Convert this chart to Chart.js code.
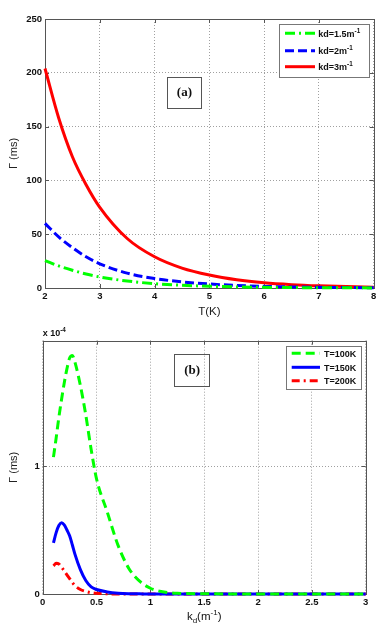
<!DOCTYPE html>
<html>
<head>
<meta charset="utf-8">
<script src="https://cdn.jsdelivr.net/npm/chart.js@4.4.0/dist/chart.umd.min.js"></script>
<style>
  html, body { margin: 0; padding: 0; background: #fff; }
  #wrap { position: relative; width: 391px; height: 637px; }
  canvas { position: absolute; left: 0; }
</style>
</head>
<body>
<div id="wrap">
  <canvas id="chartA" width="391" height="320" style="top:0"></canvas>
  <canvas id="chartB" width="391" height="317" style="top:320px"></canvas>
</div>
<script>
// (a) relaxation rate vs temperature, one curve per kd
const temps     = [2, 2.25, 2.5, 2.75, 3, 3.5, 4, 4.5, 5, 5.5, 6, 6.5, 7, 7.5, 8];
const gammaKd15 = [25.5, 20.5, 16.5, 13, 10.2, 6.5, 4.0, 2.6, 1.6, 1.0, 0.65, 0.4, 0.25, 0.15, 0.1];
const gammaKd2  = [60, 47.5, 37.5, 29, 22.5, 13.8, 8.8, 5.7, 3.7, 2.4, 1.5, 1.0, 0.6, 0.4, 0.3];
const gammaKd3  = [204, 158, 122, 96, 75, 46, 29, 18.5, 12, 7.6, 4.8, 3.1, 2.0, 1.3, 0.8];
const labelsA   = ['kd=1.5m^{-1}', 'kd=2m^{-1}', 'kd=3m^{-1}'];

// (b) relaxation rate vs kd, values in units of 1e-4 ms
const kdValues  = [0.1, 0.125, 0.15, 0.175, 0.2, 0.225, 0.25, 0.275, 0.3, 0.35, 0.4, 0.45, 0.5, 0.6, 0.7, 0.8, 0.9, 1.0, 1.1, 1.25, 1.5, 2, 2.5, 3];
const gammaT100 = [1.07, 1.22, 1.38, 1.52, 1.65, 1.76, 1.845, 1.865, 1.81, 1.63, 1.40, 1.13, 0.9, 0.64, 0.38, 0.2, 0.1, 0.045, 0.02, 0.006, 0.002, 0, 0, 0];
const gammaT150 = [0.40, 0.48, 0.535, 0.557, 0.54, 0.5, 0.455, 0.385, 0.31, 0.19, 0.105, 0.055, 0.035, 0.016, 0.006, 0.002, 0.001, 0, 0, 0, 0, 0, 0, 0];
const gammaT200 = [0.22, 0.24, 0.235, 0.21, 0.18, 0.15, 0.12, 0.09, 0.065, 0.035, 0.02, 0.01, 0.005, 0.002, 0, 0, 0, 0, 0, 0, 0, 0, 0, 0];
const labelsB   = ['T=100K', 'T=150K', 'T=200K'];

const FONT = '"Liberation Sans", Arial, sans-serif';

function toPoints(xs, ys) {
  return xs.map((x, i) => ({ x: x, y: ys[i] }));
}

// draws text with _{sub} and ^{sup} parts, y is the baseline
function drawRich(ctx, text, x, y, size, weight, align) {
  const parts = [];
  const re = /([_^])\{([^}]*)\}/g;
  let last = 0, m;
  while ((m = re.exec(text))) {
    if (m.index > last) parts.push({ t: text.slice(last, m.index), k: '' });
    parts.push({ t: m[2], k: m[1] });
    last = re.lastIndex;
  }
  if (last < text.length) parts.push({ t: text.slice(last), k: '' });
  const fontFor = p => weight + ' ' + (p.k ? size * 0.7 : size) + 'px ' + FONT;
  let total = 0;
  parts.forEach(p => { ctx.font = fontFor(p); p.w = ctx.measureText(p.t).width; total += p.w; });
  let cx = align === 'center' ? x - total / 2 : x;
  ctx.textAlign = 'left';
  ctx.textBaseline = 'alphabetic';
  parts.forEach(p => {
    ctx.font = fontFor(p);
    const dy = p.k === '^' ? -size * 0.42 : (p.k === '_' ? size * 0.28 : 0);
    ctx.fillText(p.t, cx, y + dy);
    cx += p.w;
  });
}

// box around plot + inward tick marks
const framePlugin = {
  id: 'frame',
  beforeDatasetsDraw(chart) {
    const { ctx, chartArea: a, scales } = chart;
    const x = scales.x, y = scales.y;
    ctx.save();
    ctx.strokeStyle = '#555';
    ctx.lineWidth = 1;
    ctx.setLineDash([]);
    ctx.beginPath();
    x.ticks.forEach(t => {
      const px = Math.round(x.getPixelForValue(t.value)) + 0.5;
      ctx.moveTo(px, a.bottom); ctx.lineTo(px, a.bottom - 4);
      ctx.moveTo(px, a.top); ctx.lineTo(px, a.top + 4);
    });
    y.ticks.forEach(t => {
      const py = Math.round(y.getPixelForValue(t.value)) + 0.5;
      ctx.moveTo(a.left, py); ctx.lineTo(a.left + 4, py);
      ctx.moveTo(a.right, py); ctx.lineTo(a.right - 4, py);
    });
    ctx.stroke();
    ctx.strokeRect(Math.round(a.left) + 0.5, Math.round(a.top) + 0.5,
      Math.round(a.right - a.left), Math.round(a.bottom - a.top));
    ctx.restore();
  }
};

// legend box, panel tag and extra texts
const extrasPlugin = {
  id: 'extras',
  afterDraw(chart, args, opts) {
    const { ctx, chartArea: a } = chart;
    ctx.save();
    // legend
    const L = opts.legend;
    const bx = a.right - L.right - L.w, by = a.top + L.top;
    ctx.fillStyle = '#fff';
    ctx.fillRect(bx, by, L.w, L.h);
    ctx.strokeStyle = '#777';
    ctx.lineWidth = 1;
    ctx.setLineDash([]);
    ctx.strokeRect(Math.round(bx) + 0.5, Math.round(by) + 0.5, Math.round(L.w), Math.round(L.h));
    chart.data.datasets.forEach((ds, i) => {
      const ry = by + L.rows[i];
      ctx.strokeStyle = ds.borderColor;
      ctx.lineWidth = 3;
      ctx.setLineDash(ds.borderDash || []);
      ctx.beginPath();
      ctx.moveTo(bx + L.line0, ry);
      ctx.lineTo(bx + L.line1, ry);
      ctx.stroke();
      ctx.fillStyle = '#111';
      drawRich(ctx, ds.label, bx + L.text, ry + 3.3, 9, 'bold', 'left');
    });
    ctx.setLineDash([]);
    // panel tag
    const T = opts.tag;
    const tx = a.left + T.fx * (a.right - a.left), ty = a.top + T.fy * (a.bottom - a.top);
    ctx.strokeStyle = '#555';
    ctx.lineWidth = 1;
    ctx.strokeRect(Math.round(tx) + 0.5, Math.round(ty) + 0.5, T.w, T.h);
    ctx.fillStyle = '#111';
    ctx.font = 'bold 13px "Liberation Serif", "Times New Roman", serif';
    ctx.textAlign = 'center';
    ctx.textBaseline = 'middle';
    ctx.fillText(T.text, tx + T.w / 2 + 0.5, ty + T.h / 2 + 0.5);
    // extra texts
    (opts.texts || []).forEach(s => {
      ctx.fillStyle = '#111';
      const px = s.at === 'left' ? a.left : (a.left + a.right) / 2;
      drawRich(ctx, s.text, px, s.y, s.size, s.weight, s.at === 'left' ? 'left' : 'center');
    });
    ctx.restore();
  }
};

function lineSet(label, xs, ys, color, dash) {
  return {
    label: label,
    data: toPoints(xs, ys),
    borderColor: color,
    borderWidth: 3,
    borderDash: dash,
    pointRadius: 0,
    fill: false,
    cubicInterpolationMode: 'monotone',
    clip: false
  };
}

const tickFont = { family: FONT, size: 9.5, weight: 'bold' };
const gridOpts = { color: '#a0a0a0', lineWidth: 1, drawTicks: false };
const borderOpts = { display: false, dash: [1, 2] };
const yTitle = { display: true, text: 'Γ (ms)', color: '#222', font: { family: FONT, size: 11 }, padding: { top: 7, bottom: 0 } };

// Chart (a)
new Chart(document.getElementById('chartA'), {
  type: 'line',
  data: {
    datasets: [
      lineSet(labelsA[0], temps, gammaKd15, '#00ff00', [10, 4, 2, 4]),
      lineSet(labelsA[1], temps, gammaKd2, '#0000ff', [9, 4]),
      lineSet(labelsA[2], temps, gammaKd3, '#ff0000', [])
    ]
  },
  options: {
    responsive: false,
    animation: false,
    devicePixelRatio: 1,
    layout: { padding: { left: 0, right: 17.3, top: 19, bottom: 0 } },
    plugins: {
      legend: { display: false },
      tooltip: { enabled: false },
      extras: {
        legend: { right: 4.7, top: 5, w: 90, h: 53, line0: 6, line1: 36, text: 39.3, rows: [9.3, 26.7, 42.7] },
        tag: { text: '(a)', fx: 0.371, fy: 0.216, w: 34, h: 31 }
      }
    },
    scales: {
      x: {
        type: 'linear', min: 2, max: 8,
        ticks: { stepSize: 1, color: '#111', font: tickFont, padding: 3, maxRotation: 0 },
        grid: gridOpts, border: borderOpts,
        title: { display: true, text: 'T(K)', color: '#222', font: { family: FONT, size: 11.5 }, padding: { top: 0, bottom: 1 } },
        afterFit: s => { s.height = 32; }
      },
      y: {
        min: 0, max: 250,
        ticks: { stepSize: 50, color: '#111', font: tickFont, padding: 3 },
        grid: gridOpts, border: borderOpts,
        title: yTitle,
        afterFit: s => { s.width = 45; }
      }
    }
  },
  plugins: [framePlugin, extrasPlugin]
});

// Chart (b)
new Chart(document.getElementById('chartB'), {
  type: 'line',
  data: {
    datasets: [
      lineSet(labelsB[0], kdValues, gammaT100, '#00ff00', [9, 5]),
      lineSet(labelsB[1], kdValues, gammaT150, '#0000ff', []),
      lineSet(labelsB[2], kdValues, gammaT200, '#ff0000', [8, 4, 2, 4])
    ]
  },
  options: {
    responsive: false,
    animation: false,
    devicePixelRatio: 1,
    layout: { padding: { left: 0, right: 25.3, top: 20.7, bottom: 0 } },
    plugins: {
      legend: { display: false },
      tooltip: { enabled: false },
      extras: {
        legend: { right: 4.7, top: 5, w: 75.3, h: 43.3, line0: 6, line1: 34.3, text: 38.3, rows: [7.6, 21.6, 35] },
        tag: { text: '(b)', fx: 0.407, fy: 0.0525, w: 35, h: 32 },
        texts: [
          { text: 'x 10^{-4}', at: 'left', y: 15.5, size: 9, weight: 'bold' },
          { text: 'k_{d}(m^{-1})', at: 'center', y: 300, size: 11.5, weight: 'normal' }
        ]
      }
    },
    scales: {
      x: {
        type: 'linear', min: 0, max: 3,
        ticks: { stepSize: 0.5, color: '#111', font: tickFont, padding: 3, maxRotation: 0,
          callback: v => String(Math.round(v * 10) / 10) },
        grid: gridOpts, border: borderOpts,
        afterFit: s => { s.height = 43; }
      },
      y: {
        min: 0, max: 1.98,
        ticks: { stepSize: 1, color: '#111', font: tickFont, padding: 3,
          callback: v => String(Math.round(v)) },
        afterBuildTicks: s => { s.ticks = s.ticks.filter(t => t.value === 0 || t.value === 1); },
        grid: gridOpts, border: borderOpts,
        title: yTitle,
        afterFit: s => { s.width = 42.7; }
      }
    }
  },
  plugins: [framePlugin, extrasPlugin]
});
</script>
</body>
</html>
